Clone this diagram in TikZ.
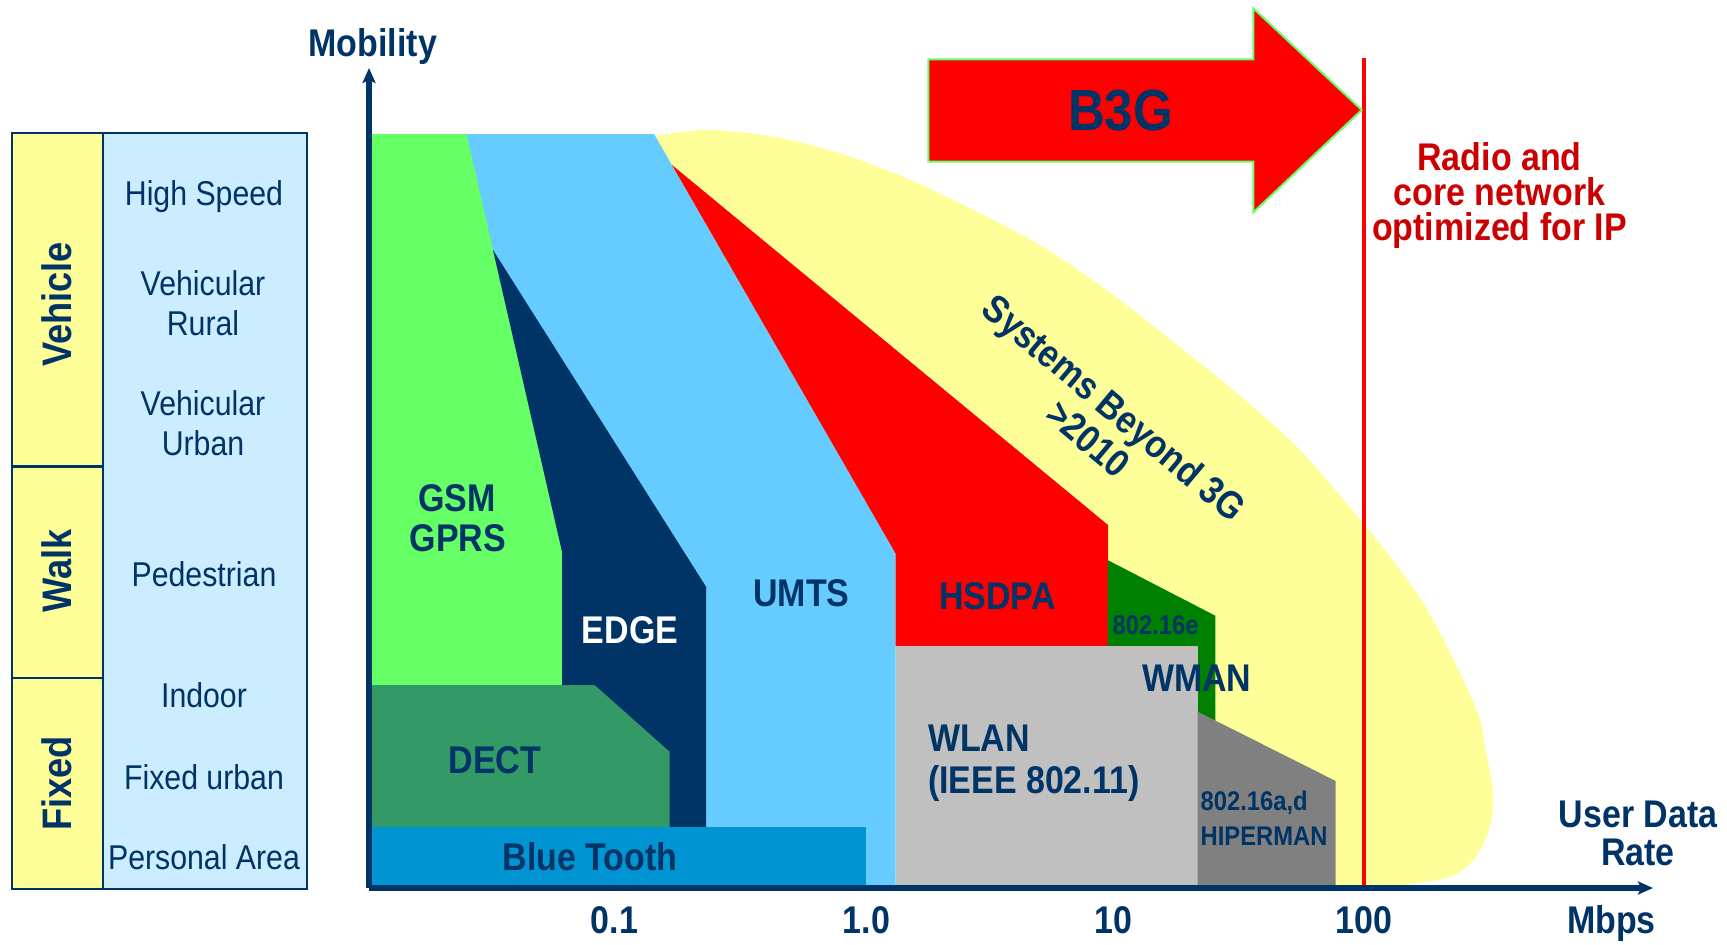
\documentclass[tikz,border=0pt]{standalone}
\usepackage{fontspec}
\setmainfont{Liberation Sans}[FakeStretch=0.88]
\usetikzlibrary{arrows.meta}

\definecolor{navy}{RGB}{0,51,102}
\definecolor{paleyellow}{RGB}{255,255,153}
\definecolor{paleblue}{RGB}{204,236,255}
\definecolor{gsmgreen}{RGB}{102,255,102}
\definecolor{umtsblue}{RGB}{102,204,255}
\definecolor{hsdpared}{RGB}{255,0,0}
\definecolor{wmangreen}{RGB}{0,128,0}
\definecolor{wlangrey}{RGB}{192,192,192}
\definecolor{hipergrey}{RGB}{128,128,128}
\definecolor{dectgreen}{RGB}{51,153,102}
\definecolor{btblue}{RGB}{0,148,210}
\definecolor{iptext}{RGB}{204,0,0}

\begin{document}
\begin{tikzpicture}[x=0.5pt,y=-0.5pt,
  every node/.style={inner sep=0pt, outer sep=0pt},
  lbl/.style={anchor=base, text=navy, font=\bfseries\fontsize{19.3pt}{23pt}\selectfont},
  tiny/.style={anchor=base west, text=navy, font=\bfseries\fontsize{13.5pt}{16pt}\selectfont},
  rowtxt/.style={anchor=base, text=navy, font=\fontsize{17.2pt}{20pt}\selectfont},
  grouptxt/.style={rotate=90, text=navy, font=\bfseries\fontsize{20.6pt}{24pt}\selectfont},
  iptxt/.style={anchor=base, text=iptext, font=\bfseries\fontsize{19.3pt}{23pt}\selectfont},
  grid/.style={draw=navy, line width=1.25pt},
  axisline/.style={draw=navy, line width=2.6pt, -{Stealth[length=7.5pt,width=6.5pt,inset=1.5pt]}},
  ipline/.style={draw=hsdpared, line width=2.3pt},
]
\useasboundingbox (0,0) rectangle (1727,944);

% ---------- mobility classes table ----------
\fill[paleyellow] (12,133) rectangle (103,889);
\fill[paleblue] (103,133) rectangle (307,889);
\draw[grid] (12,133) rectangle (307,889);
\draw[grid] (103,133) -- (103,889);
\draw[grid] (12,466.7) -- (103,466.7);
\draw[grid] (12,678) -- (103,678);

\node[grouptxt] (vehicle) at (57,304.5) {Vehicle};
\node[grouptxt] (walk) at (57,570.5) {Walk};
\node[grouptxt] (fixed) at (57,783.5) {Fixed};

\node[rowtxt] (highspeed) at (204,205) {High Speed};
\node[rowtxt] (vr1) at (203,295) {Vehicular};
\node[rowtxt] (vr2) at (203,335) {Rural};
\node[rowtxt] (vu1) at (203,415) {Vehicular};
\node[rowtxt] (vu2) at (203,455) {Urban};
\node[rowtxt] (pedestrian) at (204,586.7) {Pedestrian};
\node[rowtxt] (indoor) at (204,707) {Indoor};
\node[rowtxt] (fixedurban) at (204,789) {Fixed urban};
\node[rowtxt] (personal) at (204,869) {Personal Area};

% ---------- beyond-3G region ----------
\fill[paleyellow] plot[smooth, tension=0.5] coordinates {
  (655,136) (706.7,130) (773.3,136.7) (840,153.3) (906.7,178.3)
  (973.3,210) (1040,245) (1106.7,290) (1166.7,336.7) (1233.3,390)
  (1300,450) (1363.3,523.3) (1400,570) (1433.3,620) (1476.7,710)
  (1486,752) (1493.3,795) (1489,830) (1473.3,860) (1450,876.7)
  (1406.7,885) (1375,888)}
  -- (900,888) -- (660,200) -- cycle;

% ---------- system coverage areas ----------
% UMTS
\fill[umtsblue] (466.5,134) -- (654,134) -- (895.5,553.3) -- (895.5,888) -- (466.5,888) -- cycle;
% GSM / GPRS
\fill[gsmgreen] (371,134) -- (466.5,134) -- (562,551.7) -- (562,888) -- (371,888) -- cycle;
% EDGE
\fill[navy] (493,250) -- (706,586.7) -- (706,888) -- (562,888) -- (562,551.7) -- cycle;
% HSDPA
\fill[hsdpared] (672,165) -- (1108,525) -- (1108,646) -- (895.5,646) -- (895.5,553.3) -- cycle;
% 802.16e
\fill[wmangreen] (1107.5,560) -- (1215.3,615.7) -- (1215.3,740) -- (1107.5,740) -- cycle;
% WLAN
\fill[wlangrey] (895.5,646) rectangle (1197.7,888);
% 802.16a,d / HIPERMAN
\fill[hipergrey] (1197.7,711.7) -- (1335.7,781) -- (1335.7,888) -- (1197.7,888) -- cycle;
% DECT
\fill[dectgreen] (371,685) -- (594.6,685) -- (669.6,751.7) -- (669.6,827) -- (371,827) -- cycle;
% Bluetooth
\fill[btblue] (371,826.7) rectangle (865.6,888);

% ---------- IP boundary and B3G arrow ----------
\coordinate (iptop) at (1364,58);
\coordinate (ipbot) at (1364,888);
\draw[ipline] (iptop) -- (ipbot);

\fill[hsdpared, draw=gsmgreen, line width=1pt]
  (928.3,59.3) -- (1253.3,59.3) -- (1253.3,8.3) -- (1361.7,110)
  -- (1253.3,212.3) -- (1253.3,161.7) -- (928.3,161.7) -- cycle;
\node[anchor=base, text=navy, font=\bfseries\fontsize{29pt}{34pt}\selectfont] (b3g) at (1120.5,130) {B3G};

\node[iptxt] (ip1) at (1499.5,170.5) {Radio and};
\node[iptxt] (ip2) at (1499.5,205.5) {core network};
\node[iptxt] (ip3) at (1499.5,240.5) {optimized for IP};

% ---------- axes ----------
\coordinate (origin) at (369,888);
\coordinate (ytip) at (369,68);
\coordinate (xtip) at (1653,888);
\draw[axisline] (origin) -- (ytip);
\draw[axisline] (origin) -- (xtip);

\node[lbl] (mobility) at (372.8,56) {Mobility};
\node[lbl] (udr1) at (1638,827) {User Data};
\node[lbl] (udr2) at (1638,865) {Rate};

\node[lbl] (t01) at (614.5,933.3) {0.1};
\node[lbl] (t1) at (866.3,933.3) {1.0};
\node[lbl] (t10) at (1113,933.3) {10};
\node[lbl] (t100) at (1364,933.3) {100};
\node[lbl] (mbps) at (1611.5,933.3) {Mbps};

% ---------- area labels ----------
\node[lbl] (gsm) at (457,511.7) {GSM};
\node[lbl] (gprs) at (458,551.7) {GPRS};
\node[lbl, text=white] (edge) at (630,643.3) {EDGE};
\node[lbl] (umts) at (801.5,606.7) {UMTS};
\node[lbl] (hsdpa) at (997.4,609) {HSDPA};
\node[lbl] (dect) at (495,773.3) {DECT};
\node[lbl] (bt) at (590,870.7) {Blue Tooth};
\node[lbl, anchor=base west] (wlan) at (928,751.7) {WLAN};
\node[lbl, anchor=base west] (ieee) at (928,793.3) {(IEEE 802.11)};
\node[lbl] (wman) at (1196.7,691.7) {WMAN};
\node[tiny] (w16e) at (1112.7,634.3) {802.16e};
\node[tiny] (w16ad) at (1200.7,810) {802.16a,d};
\node[tiny] (hiperman) at (1200.7,845) {HIPERMAN};

\node[anchor=center, rotate=-40, align=center, text=navy,
      font=\bfseries\fontsize{19.3pt}{20pt}\selectfont] (beyond) at (1101.5,423)
      {Systems Beyond 3G\\>2010};
\end{tikzpicture}
\end{document}
